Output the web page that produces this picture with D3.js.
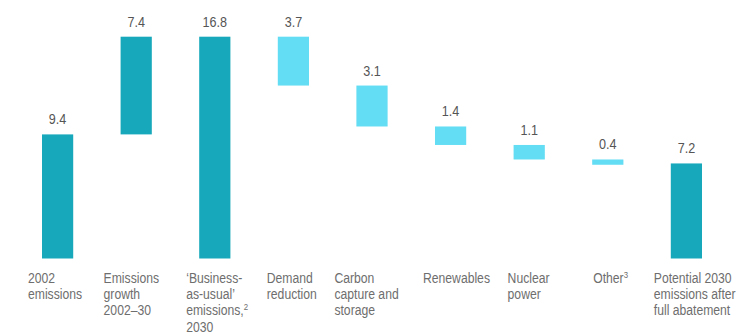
<!DOCTYPE html>
<html>
<head>
<meta charset="utf-8">
<script src="https://cdn.jsdelivr.net/npm/d3@7"></script>
<style>
  html, body { margin: 0; padding: 0; background: #fff; }
  svg { display: block; }
  text { font-family: "Liberation Sans", Arial, sans-serif; }
</style>
</head>
<body>
<svg id="chart" width="749" height="334"></svg>
<script>
// Emissions bridge, Gt CO2e: 2002 level, growth to 2030, then abatement levers
const categories = [
  ["2002", "emissions"],
  ["Emissions", "growth", "2002\u201330"],
  ["\u2018Business-", "as-usual\u2019", "emissions,|2", "2030"],
  ["Demand", "reduction"],
  ["Carbon", "capture and", "storage"],
  ["Renewables"],
  ["Nuclear", "power"],
  ["Other|3"],
  ["Potential 2030", "emissions after", "full abatement"]
];
const values = [9.4, 7.4, 16.8, 3.7, 3.1, 1.4, 1.1, 0.4, 7.2];
// "total" bars stand on the baseline; "up" adds, "down" subtracts
const kinds = ["total", "up", "total", "down", "down", "down", "down", "down", "total"];
// horizontal nudge of each category label relative to its bar's left edge
const labelNudge = [-14, -17, -13, -11, -22, -12, -6, 1, -17];

const svg = d3.select("#chart");

const x = d3.scaleBand()
  .domain(d3.range(values.length))
  .range([42, 702])
  .paddingInner(0.603)
  .paddingOuter(0);

const y = d3.scaleLinear().domain([0, 16.8]).range([258.5, 36.7]);

// running level for the cascade
let level = 0;
const bars = values.map((v, i) => {
  let lo, hi;
  if (kinds[i] === "total") { lo = 0; hi = v; level = v; }
  else if (kinds[i] === "up") { lo = level; hi = level + v; level = hi; }
  else { hi = level; lo = level - v; level = lo; }
  return { i, v, lo, hi, kind: kinds[i] };
});

const dark = "#17a9bb", light = "#62ddf3";

svg.append("g").selectAll("rect")
  .data(bars)
  .join("rect")
  .attr("x", d => x(d.i))
  .attr("width", x.bandwidth())
  .attr("y", d => y(d.hi))
  .attr("height", d => Math.max(2, y(d.lo) - y(d.hi)))
  .attr("fill", d => d.kind === "down" ? light : dark);

// value labels above each bar (condensed face)
svg.append("g").selectAll("g")
  .data(bars)
  .join("g")
  .attr("transform", d => `translate(${x(d.i) + x.bandwidth() / 2},${y(d.hi) - 10}) scale(0.9,1)`)
  .append("text")
  .attr("text-anchor", "middle")
  .attr("font-size", 14)
  .attr("fill", "#555")
  .text(d => d.v.toFixed(1));

// category labels below the baseline, left aligned
const lab = svg.append("g").selectAll("g")
  .data(categories)
  .join("g")
  .attr("transform", (d, i) => `translate(${x(i) + labelNudge[i]},283) scale(0.87,1)`)
  .append("text")
  .attr("font-size", 14)
  .attr("fill", "#6e6e6e");

lab.each(function(lines) {
  const t = d3.select(this);
  lines.forEach((line, k) => {
    const [main, sup] = line.split("|");
    t.append("tspan")
      .attr("x", 0)
      .attr("y", k * 16.2)
      .text(main);
    if (sup) {
      t.append("tspan")
        .attr("y", k * 16.2 - 5)
        .attr("font-size", 9)
        .text(sup);
    }
  });
});
</script>
</body>
</html>
